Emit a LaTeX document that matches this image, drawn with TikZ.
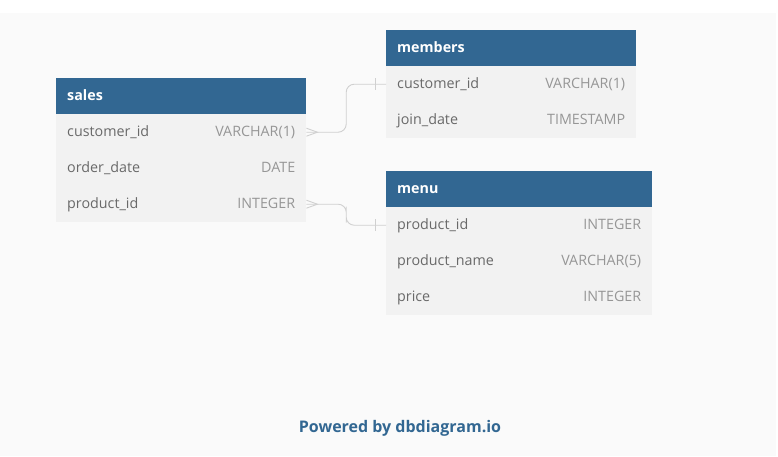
\documentclass[tikz,border=0pt]{standalone}
\usepackage{fontspec}
\setmainfont{Open Sans}
\usepackage{xcolor}
\usetikzlibrary{calc}

\definecolor{dbblue}{RGB}{50,103,146}
\definecolor{rowgray}{RGB}{242,242,242}
\definecolor{fieldgray}{RGB}{105,105,105}
\definecolor{typegray}{RGB}{150,150,150}
\definecolor{relgray}{RGB}{208,208,208}
\definecolor{canvas}{RGB}{250,250,250}

\tikzset{
    tblfont/.style={font=\fontsize{14.3}{16}\selectfont},
    tblhead/.style={fill=dbblue, text=white, font=\bfseries\fontsize{14.3}{16}\selectfont,
        anchor=north west, minimum height=36pt, inner xsep=11pt, inner ysep=0pt,
        align=left, text height=11pt, text depth=2pt},
    tblrow/.style={tblfont, fill=rowgray, text=fieldgray, anchor=north west,
        minimum height=36pt, inner xsep=11pt, inner ysep=0pt, align=left,
        text height=11pt, text depth=2pt},
    coltype/.style={tblfont, text=typegray, anchor=east, inner xsep=11pt,
        inner ysep=0pt, text height=11pt, text depth=2pt},
    rel/.style={draw=relgray, line width=0.9pt, rounded corners=8pt},
    relend/.style={draw=relgray, line width=0.9pt},
}

\begin{document}
\begin{tikzpicture}[x=1pt, y=-1pt]
    \useasboundingbox (0, 0) rectangle (778, 456);
    \fill[white] (0, 0) rectangle (778, 456);
    \fill[canvas] (0, 13) rectangle (776, 456);

    % sales
    \node[tblhead, text width=228pt] (sales) at (56, 78) {sales};
    \foreach \i/\f/\t in {1/customer\_id/VARCHAR(1), 2/order\_date/DATE, 3/product\_id/INTEGER} {
        \node[tblrow, text width=228pt] (sales-\i) at (56, 78+36*\i) {\f};
        \node[coltype] (sales-t\i) at (sales-\i.east) {\t};
    }

    % members
    \node[tblhead, text width=228pt] (members) at (386, 30) {members};
    \foreach \i/\f/\t in {1/customer\_id/VARCHAR(1), 2/join\_date/TIMESTAMP} {
        \node[tblrow, text width=228pt] (members-\i) at (386, 30+36*\i) {\f};
        \node[coltype] (members-t\i) at (members-\i.east) {\t};
    }

    % menu
    \node[tblhead, text width=244pt] (menu) at (386, 171) {menu};
    \foreach \i/\f/\t in {1/product\_id/INTEGER, 2/product\_name/VARCHAR(5), 3/price/INTEGER} {
        \node[tblrow, text width=244pt] (menu-\i) at (386, 171+36*\i) {\f};
        \node[coltype] (menu-t\i) at (menu-\i.east) {\t};
    }

    % references
    \draw[rel] (sales-1.east) -| ($(sales-1.east)!0.5!(members-1.west)$) |- (members-1.west);
    \draw[relend] ($(sales-1.east)+(0,-4)$) -- ($(sales-1.east)+(11,0)$) -- ($(sales-1.east)+(0,4)$);
    \draw[relend] ($(members-1.west)+(-11,-6)$) -- ++(0, 12);

    \draw[rel] (sales-3.east) -| ($(sales-3.east)!0.5!(menu-1.west)$) |- (menu-1.west);
    \draw[relend] ($(sales-3.east)+(0,-4)$) -- ($(sales-3.east)+(11,0)$) -- ($(sales-3.east)+(0,4)$);
    \draw[relend] ($(menu-1.west)+(-11,-6)$) -- ++(0, 12);

    \node[text=dbblue, font=\bfseries\fontsize{16}{18}\selectfont] (powered) at (400, 428) {Powered by dbdiagram.io};
\end{tikzpicture}
\end{document}
